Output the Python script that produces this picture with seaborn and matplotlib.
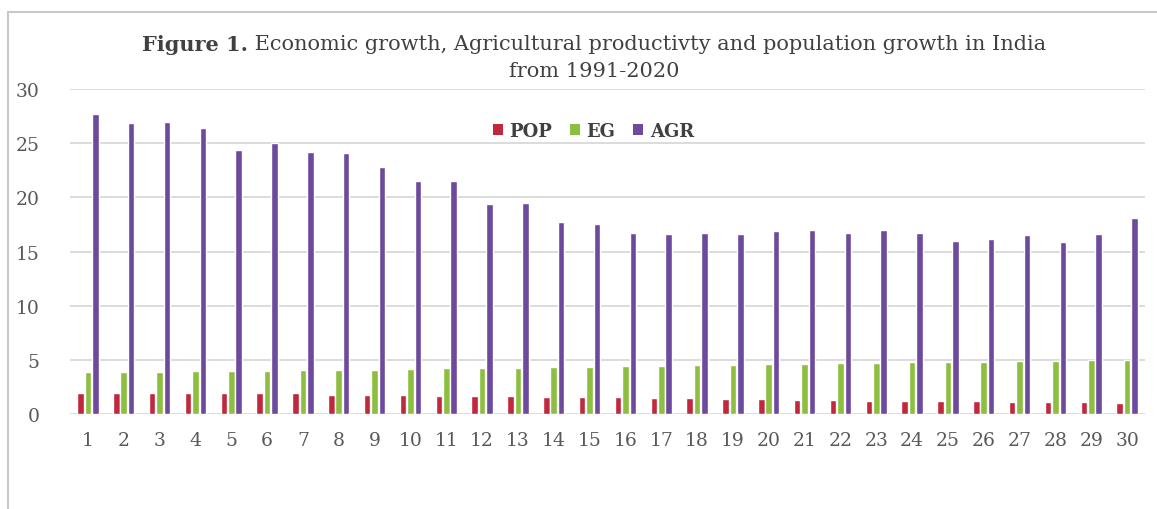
import numpy as np
import pandas as pd
import matplotlib
matplotlib.use("Agg")
import matplotlib.pyplot as plt
from matplotlib.lines import Line2D
from matplotlib.patches import Patch
import seaborn as sns

# values (years 1991-2020 numbered 1..30)
years = list(range(1, 31))
pop = [1.95, 1.95, 1.9, 1.9, 1.9, 1.9, 1.9, 1.8, 1.8, 1.8,
       1.7, 1.7, 1.7, 1.6, 1.6, 1.6, 1.5, 1.5, 1.4, 1.4,
       1.3, 1.3, 1.2, 1.2, 1.2, 1.2, 1.1, 1.1, 1.1, 1.05]
eg = [3.85, 3.9, 3.9, 3.95, 4.0, 4.0, 4.05, 4.1, 4.1, 4.15,
      4.25, 4.25, 4.25, 4.3, 4.3, 4.4, 4.4, 4.5, 4.5, 4.6,
      4.6, 4.7, 4.7, 4.8, 4.8, 4.8, 4.9, 4.9, 4.95, 4.95]
agr = [27.7, 26.9, 27.0, 26.4, 24.4, 25.0, 24.2, 24.1, 22.8, 21.5,
       21.5, 19.4, 19.5, 17.7, 17.5, 16.7, 16.6, 16.7, 16.6, 16.9,
       17.0, 16.7, 17.0, 16.7, 16.0, 16.2, 16.5, 15.9, 16.6, 18.1]
series = ["POP", "EG", "AGR"]
colors = ["#C0283C", "#8CBF3F", "#6E4A9E"]

df = pd.DataFrame({"year": years, "POP": pop, "EG": eg, "AGR": agr})
long = df.melt(id_vars="year", var_name="series", value_name="value")

sns.set_style("white")
plt.rcParams["font.family"] = ["DejaVu Serif"]

W, H = 1157, 510
fig = plt.figure(figsize=(W / 100, H / 100), dpi=100)
ax = fig.add_axes([70 / W, 1 - 415 / H, (1145 - 70) / W, (415 - 90) / H])

sns.barplot(data=long, x="year", y="value", hue="series", hue_order=series,
            palette=colors, width=0.62, gap=0.12, ax=ax, legend=False,
            saturation=1)

ax.set_ylim(0, 30)
ax.set_xlim(-0.5, 29.5)
ax.set_yticks(range(0, 31, 5))
ax.yaxis.grid(True, color="#D9D9D9", linewidth=1.3)
ax.set_axisbelow(True)
for s in ax.spines.values():
    s.set_visible(False)
ax.tick_params(axis="both", length=0, labelsize=13.5, labelcolor="#595959")
ax.tick_params(axis="y", pad=22)
ax.tick_params(axis="x", pad=12)
ax.set_xlabel("")
ax.set_ylabel("")

handles = [Patch(facecolor=c, edgecolor="none") for c in colors]
leg = ax.legend(handles, series, loc="center", bbox_to_anchor=(0.487, 0.871),
                ncol=3, frameon=False, handlelength=0.55, handleheight=0.55,
                handletextpad=0.35, columnspacing=1.0,
                prop={"weight": "bold", "size": 13})
for t in leg.get_texts():
    t.set_color("#404040")

# title, bold "Figure 1." followed by regular text
fig.canvas.draw()
r = fig.canvas.get_renderer()
y1 = 1 - 45 / H
t_b = fig.text(0, y1, "Figure 1.", weight="bold", size=15, color="#404040", va="center")
t_n = fig.text(0, y1, " Economic growth, Agricultural productivty and population growth in India",
               size=15, color="#404040", va="center")
wb = t_b.get_window_extent(r).width
wn = t_n.get_window_extent(r).width
x0 = 594 - (wb + wn) / 2
t_b.set_x(x0 / W)
t_n.set_x((x0 + wb) / W)
fig.text(594 / W, 1 - 72 / H, "from 1991-2020", size=15, color="#404040",
         ha="center", va="center")

# chart frame border
fig.add_artist(Line2D([8 / W, 1], [1 - 13 / H, 1 - 13 / H], color="#C8C8C8", linewidth=1.5))
fig.add_artist(Line2D([8 / W, 8 / W], [0, 1 - 13 / H], color="#C8C8C8", linewidth=1.5))

fig.savefig("out.png", dpi=100)
